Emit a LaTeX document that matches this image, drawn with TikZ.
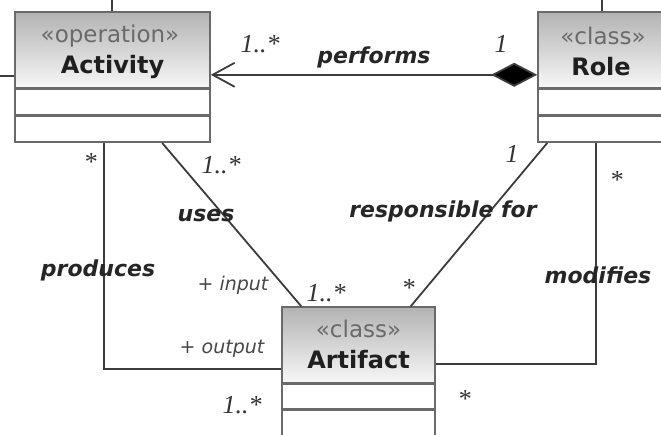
\documentclass[tikz,border=0pt]{standalone}
\usepackage{fontspec}
\setmainfont{DejaVu Sans}
\newfontfamily\multfont{Liberation Serif}
\usetikzlibrary{arrows.meta,calc}
\definecolor{boxline}{HTML}{6A6A6A}
\definecolor{wire}{HTML}{3C3C3C}
\definecolor{stereo}{HTML}{6A6A6A}
\tikzset{
  header/.style={draw=boxline, line width=1.6pt, top color=black!30, bottom color=black!3,
    minimum height=76pt, inner sep=0pt},
  compart/.style={draw=boxline, line width=1.6pt, fill=white, inner sep=0pt},
  wireline/.style={draw=wire, line width=1.8pt},
  stereotype/.style={font=\fontsize{23}{23}\selectfont, text=stereo},
  classname/.style={font=\fontsize{24}{24}\selectfont\bfseries, text=black!88},
  assoc/.style={font=\fontsize{22}{22}\selectfont\bfseries\itshape, text=black!85},
  rolename/.style={font=\fontsize{19}{19}\selectfont\itshape, text=black!72},
  mult/.style={font=\multfont\fontsize{26}{26}\selectfont\itshape, text=black!80},
}
\begin{document}
\begin{tikzpicture}[x=1pt,y=-1pt]
\useasboundingbox (0,0) rectangle (661,434);
\fill[white] (0,0) rectangle (661,434);

% Activity class
\node[header, minimum width=195pt] (actH) at (112.5,50) {};
\node[compart, minimum width=195pt, minimum height=25pt, anchor=north] (actA) at (actH.south) {};
\node[compart, minimum width=195pt, minimum height=26pt, anchor=north] (actB) at (actA.south) {};
\node[stereotype] (actS) at (110,36) {«operation»};
\node[classname] (actN) at (112.5,67) {Activity};

% Role class
\node[header, minimum width=124pt] (roleH) at (600,50) {};
\node[compart, minimum width=124pt, minimum height=25pt, anchor=north] (roleA) at (roleH.south) {};
\node[compart, minimum width=124pt, minimum height=26pt, anchor=north] (roleB) at (roleA.south) {};
\node[stereotype] (roleS) at (603,36) {«class»};
\node[classname] (roleN) at (601,67) {Role};

% Artifact class
\node[header, minimum width=153pt] (artH) at (358.5,345) {};
\node[compart, minimum width=153pt, minimum height=24pt, anchor=north] (artA) at (artH.south) {};
\node[compart, minimum width=153pt, minimum height=30pt, anchor=north] (artB) at (artA.south) {};
\node[stereotype] (artS) at (358.5,329) {«class»};
\node[classname] (artN) at (358.5,360) {Artifact};

% stubs of associations leaving the view
\coordinate (topA) at (112,0);
\coordinate (leftA) at (0,76);
\coordinate (topR) at (602,0);
\draw[wireline] (actH.north -| topA) -- (topA);
\draw[wireline] (actH.west |- leftA) -- (leftA);
\draw[wireline] (roleH.north -| topR) -- (topR);

% performs (composition Role -> Activity)
\draw[wireline, {Straight Barb[length=22pt,width=24pt,line width=1.8pt]}-{Diamond[length=46pt,width=24pt,fill=black]}]
  ($(actH.south east)+(0,-14)$) -- ($(roleH.south west)+(0,-14)$);

% uses
\draw[wireline] ($(actB.south west)+(148,0)$) -- ($(artH.north west)+(20,0)$);
% produces
\draw[wireline] ($(actB.south west)+(90,0)$) |- ($(artH.south west)+(0,-15)$);
% responsible for
\draw[wireline] ($(roleB.south west)+(10,0)$) -- ($(artH.north east)+(-25,0)$);
% modifies
\draw[wireline] ($(roleB.south west)+(59,0)$) |- ($(artH.south east)+(0,-20)$);

% association names
\node[assoc] (lPerf) at (374,57) {performs};
\node[assoc] (lUses) at (206,215) {uses};
\node[assoc] (lProd) at (98,270) {produces};
\node[assoc] (lResp) at (443,211) {responsible for};
\node[assoc] (lMod) at (598,275) {modifies};

% role names
\node[rolename] (rIn) at (233,285) {+ input};
\node[rolename] (rOut) at (222,349) {+ output};

% multiplicities
\node[mult] (m1) at (260,44) {1..*};
\node[mult] (m2) at (501,44) {1};
\node[mult] (m3) at (90,162) {*};
\node[mult] (m4) at (221,165) {1..*};
\node[mult] (m5) at (326,293) {1..*};
\node[mult] (m6) at (512,154) {1};
\node[mult] (m7) at (616,180) {*};
\node[mult] (m8) at (408,288) {*};
\node[mult] (m9) at (242,405) {1..*};
\node[mult] (m10) at (464,399) {*};
\end{tikzpicture}
\end{document}
